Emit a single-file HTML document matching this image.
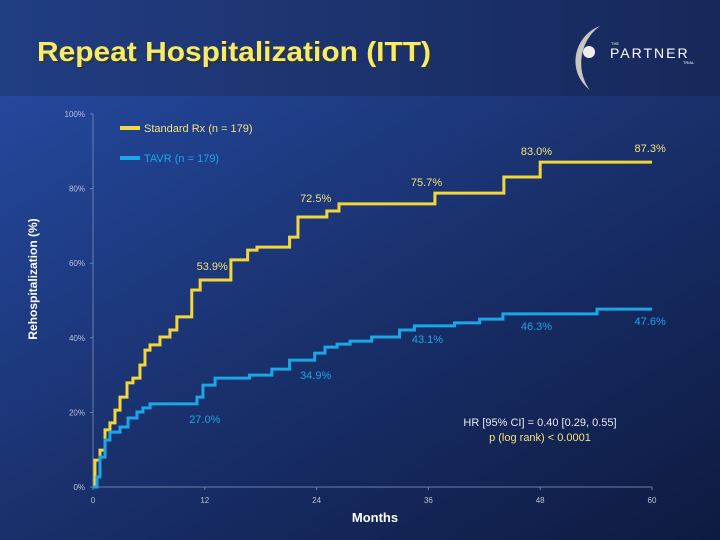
<!DOCTYPE html>
<html><head><meta charset="utf-8"><style>
html,body{margin:0;padding:0;width:720px;height:540px;overflow:hidden;background:#15275a;}
svg{display:block;font-family:"Liberation Sans",sans-serif;}
</style></head><body>
<svg width="720" height="540" viewBox="0 0 720 540">
<defs>
<linearGradient id="hdr" x1="0" y1="0" x2="1" y2="0"><stop offset="0" stop-color="#213d82"/><stop offset="1" stop-color="#17285a"/></linearGradient>
<linearGradient id="body" x1="0" y1="0" x2="1" y2="1"><stop offset="0" stop-color="#24489e"/><stop offset="0.45" stop-color="#1a3270"/><stop offset="1" stop-color="#0e1a40"/></linearGradient>
</defs>
<rect x="0" y="0" width="720" height="96" fill="url(#hdr)"/>
<rect x="0" y="96" width="720" height="444" fill="url(#body)"/>
<text x="39" y="63" font-size="28" font-weight="bold" fill="#333" textLength="394" lengthAdjust="spacingAndGlyphs">Repeat Hospitalization (ITT)</text>
<text x="37" y="61" font-size="28" font-weight="bold" fill="#f4ec6a" textLength="394" lengthAdjust="spacingAndGlyphs">Repeat Hospitalization (ITT)</text>
<g>
<path d="M600 26 C575 35 565 70 590 90 C575 70 580 40 600 26 Z" fill="#c8c8c0"/>
<circle cx="589" cy="52" r="6" fill="#eee"/>
<text x="611" y="45" font-size="4" fill="#fff">THE</text>
<text x="610" y="58" font-size="14" fill="#fff" letter-spacing="2">PARTNER</text>
<text x="683" y="64" font-size="4" fill="#fff">TRIAL</text>
</g>
<g id="axes"></g>
<g id="plot"></g>
<text transform="translate(37,279) rotate(-90)" text-anchor="middle" font-size="12" font-weight="bold" fill="#fff">Rehospitalization (%)</text>
<text x="375" y="522" text-anchor="middle" font-size="13" font-weight="bold" fill="#fff">Months</text>
<g>
<rect x="120" y="126" width="20" height="4" fill="#f2d63a"/>
<text x="144" y="132" font-size="11" fill="#f2e27a">Standard Rx  (n = 179)</text>
<rect x="120" y="156" width="20" height="4" fill="#1ba6e6"/>
<text x="144" y="162" font-size="11" fill="#1ba6e6">TAVR (n = 179)</text>
</g>
<text x="540" y="426" text-anchor="middle" font-size="11" fill="#e8e8f0">HR [95% CI] = 0.40 [0.29, 0.55]</text>
<text x="540" y="441" text-anchor="middle" font-size="11" fill="#f2e27a">p (log rank) &lt; 0.0001</text>
</svg>
<script>
const xTicks=[0,12,24,36,48,60];
const yTicks=[0,20,40,60,80,100];
const yTickLabels=["0%","20%","40%","60%","80%","100%"];
const stdMonths=[0,0.21,0.75,1.29,1.82,2.36,2.9,3.65,4.29,5.04,5.58,6.12,7.19,8.26,9.0,10.6,11.5,14.8,16.6,17.6,21.1,22.0,25.1,26.4,36.7,44.1,48.0,60];
const stdValues=[0,7.2,9.9,15.3,17.2,20.6,24.1,27.9,29.2,32.7,36.7,38.1,40.2,42.1,45.6,52.8,55.5,60.9,63.5,64.3,67.0,72.4,74.0,75.9,78.8,83.1,87.1,87.1];
const tavrMonths=[0,0.43,0.75,1.29,1.82,2.9,3.76,4.72,5.36,6.12,11.16,11.8,13.1,16.8,19.2,21.1,23.8,24.9,26.2,27.6,29.9,32.9,34.5,38.8,41.5,44.0,54.1,60];
const tavrValues=[0,2.7,8.0,12.6,14.7,16.1,18.5,20.1,21.2,22.3,24.1,27.3,29.2,30.0,31.6,34.0,35.9,37.5,38.3,39.1,40.2,42.1,43.2,44.0,45.0,46.4,47.7,47.7];
const stdLabels=[[12.8,58.2,"53.9%"],[23.9,76.4,"72.5%"],[35.8,80.7,"75.7%"],[47.6,89.0,"83.0%"],[59.8,89.8,"87.3%"]];
const tavrLabels=[[12.0,17.2,"27.0%"],[23.9,29.0,"34.9%"],[35.9,38.6,"43.1%"],[47.6,42.1,"46.3%"],[59.8,43.4,"47.6%"]];
const NS="http://www.w3.org/2000/svg";
const x=m=>93+m*(652-93)/60;
const y=p=>487-p*(487-114)/100;
function mk(t,a,parent){const e=document.createElementNS(NS,t);for(const k in a)e.setAttribute(k,a[k]);parent.appendChild(e);return e;}
const axes=document.getElementById('axes'),plot=document.getElementById('plot');
let e=mk('line',{x1:93,y1:y(0),x2:652,y2:y(0),stroke:'#6b7fa8','stroke-width':1},axes);


e=mk('line',{x1:93,y1:y(0),x2:93,y2:y(100),stroke:'#6b7fa8','stroke-width':1},axes);


xTicks.forEach(t=>{
 mk('line',{x1:x(t),y1:y(0),x2:x(t),y2:y(0)+3,stroke:'#6b7fa8'},axes);
 const tx=mk('text',{x:x(t),y:503,'text-anchor':'middle','font-size':8,fill:'#b8c0d8'},axes);
 tx.textContent=t;
 
 
});
yTicks.forEach((t,i)=>{
 mk('line',{x1:90,y1:y(t),x2:93,y2:y(t),stroke:'#6b7fa8'},axes);
 const tx=mk('text',{x:85,y:y(t)+3,'text-anchor':'end','font-size':8,fill:'#b8c0d8'},axes);
 tx.textContent=yTickLabels[i];
 
 
});
function step(ms,vs){let d='M'+x(ms[0])+' '+y(vs[0]);for(let i=1;i<ms.length;i++){d+=' H'+x(ms[i])+' V'+y(vs[i]);}return d;}
e=mk('path',{d:step(stdMonths,stdValues),fill:'none',stroke:'#f2d63a','stroke-width':3},plot);


e=mk('path',{d:step(tavrMonths,tavrValues),fill:'none',stroke:'#1ba6e6','stroke-width':3},plot);


stdLabels.forEach(l=>{const t=mk('text',{x:x(l[0]),y:y(l[1]),'text-anchor':'middle','font-size':11,fill:'#f2e27a'},plot);t.textContent=l[2];
 
 });
tavrLabels.forEach(l=>{const t=mk('text',{x:x(l[0]),y:y(l[1]),'text-anchor':'middle','font-size':11,fill:'#1ba6e6'},plot);t.textContent=l[2];
 
 });
</script>
</body></html>
